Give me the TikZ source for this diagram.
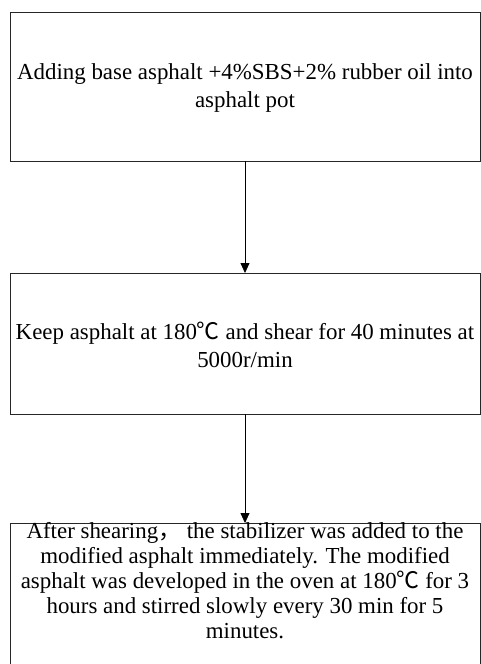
\documentclass[tikz,border=0pt]{standalone}
\usepackage{fontspec}
\setmainfont{Liberation Serif}
\newfontfamily\cjkfont{Noto Sans CJK SC}
\usetikzlibrary{arrows.meta}
\newcommand{\degC}{{\cjkfont ℃}}
\newcommand{\fwcomma}{{\cjkfont ，}}
\tikzset{
  stepbox/.style={draw=black!85, line width=0.8pt},
  txt/.style={align=center, anchor=north, font=\fontsize{22.9}{28}\selectfont, inner sep=0pt},
  flow/.style={draw=black, line width=0.8pt, -{Triangle[width=9pt,length=10pt]}}
}
\begin{document}
\begin{tikzpicture}[x=1pt,y=-1pt]
\useasboundingbox (0,0) rectangle (481,664);
\begin{scope}
\clip (0,0) rectangle (481,664);
\draw[stepbox] (10,12) rectangle (480,161);
\draw[stepbox] (10,273) rectangle (480,414);
\draw[stepbox] (10,523) rectangle (480,690);
\end{scope}
\coordinate (b1s) at (245,161);
\coordinate (b2n) at (245,273);
\coordinate (b2s) at (245,414);
\coordinate (b3n) at (245,523);
\node[txt] (t1) at (245,63.5) {Adding base asphalt +4\%SBS+2\% rubber oil into\\asphalt pot};
\node[txt] (t2) at (245,321.5) {Keep asphalt at 180\degC{} and shear for 40 minutes at\\5000r/min};
\node[txt, font=\fontsize{22.9}{25}\selectfont] (t3) at (245,522) {After shearing\fwcomma{} the stabilizer was added to the\\modified asphalt immediately. The modified\\asphalt was developed in the oven at 180\degC{} for 3\\hours and stirred slowly every 30 min for 5\\minutes.};
\draw[flow] (b1s) -- (b2n);
\draw[flow] (b2s) -- (b3n);
\end{tikzpicture}
\end{document}
